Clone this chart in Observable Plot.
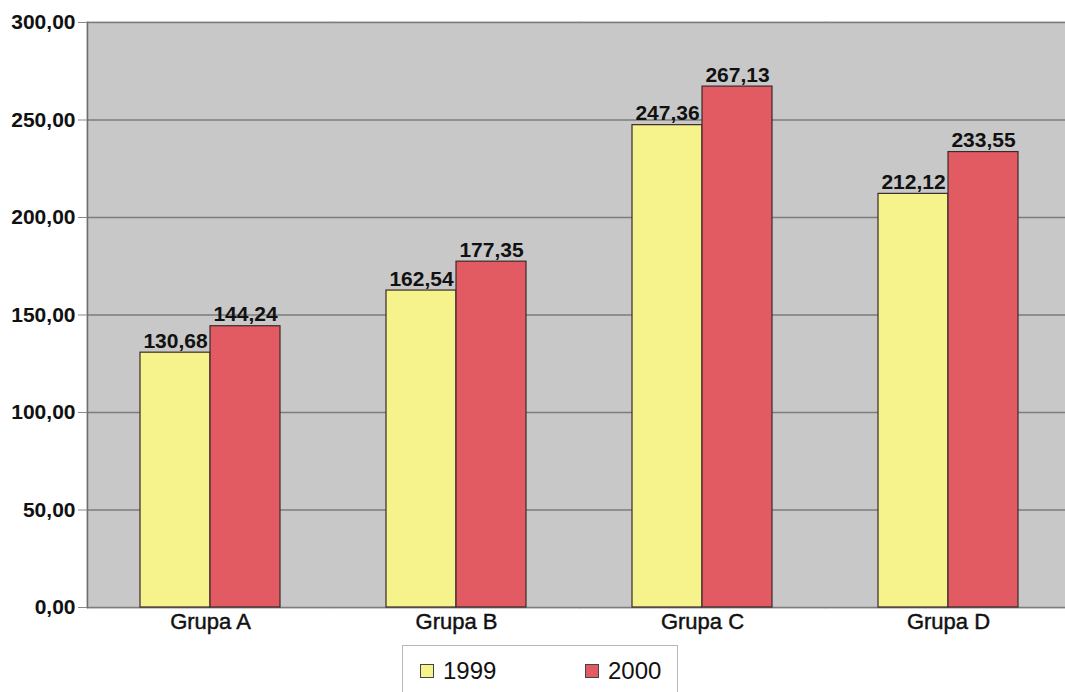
<!DOCTYPE html>
<html>
<head>
<meta charset="utf-8">
<script src="https://cdn.jsdelivr.net/npm/d3@7"></script>
<script src="https://cdn.jsdelivr.net/npm/@observablehq/plot@0.6"></script>
<style>
  body { margin: 0; background: #fff; font-family: "Liberation Sans", Arial, sans-serif; }
  #chart svg { display: block; }
  #chart g[aria-label="fx-axis tick label"] text { stroke: #111; stroke-width: 0.45px; }
  .legend {
    position: absolute; left: 402px; top: 645px; width: 276px; height: 60px;
    border: 1px solid #b8b8b8; box-sizing: border-box;
    font-size: 24px; color: #111;
  }
  .legend .item { position: absolute; top: 11px; display: flex; align-items: center; }
  .legend .sw { width: 12px; height: 12px; border: 1px solid #444; margin-right: 9px; }
</style>
</head>
<body>
<div id="chart"></div>
<div class="legend" id="legend"></div>
<script>
// Categories, series and values
const groups = ["Grupa A", "Grupa B", "Grupa C", "Grupa D"];
const years = ["1999", "2000"];
const values1999 = [130.68, 162.54, 247.36, 212.12];
const values2000 = [144.24, 177.35, 267.13, 233.55];
const yTicks = [0, 50, 100, 150, 200, 250, 300];
const colors = ["#f6f28c", "#e35b62"];

const fmt = v => v.toFixed(2).replace(".", ",");

const data = groups.flatMap((g, i) => [
  {group: g, year: years[0], value: values1999[i]},
  {group: g, year: years[1], value: values2000[i]}
]);

const chart = Plot.plot({
  width: 1065,
  height: 642,
  marginTop: 22,
  marginBottom: 35,
  marginLeft: 85,
  marginRight: -7,
  style: {fontFamily: "'Liberation Sans', Arial, sans-serif", background: "transparent"},
  fx: {domain: groups, padding: 0, label: null},
  x: {domain: years, paddingInner: 0, paddingOuter: 0.75, axis: null},
  y: {domain: [0, 300], label: null, axis: null},
  color: {domain: years, range: colors},
  marks: [
    // grey plot background; the same-coloured stroke hides seams between facets
    Plot.frame({fill: "#c8c8c8", stroke: "#c8c8c8", strokeWidth: 2}),
    Plot.ruleY(yTicks, {stroke: "#7d7d7d", strokeWidth: 1.5}),
    Plot.frame({anchor: "left", fx: ["Grupa A"], stroke: "#6e6e6e", strokeWidth: 1.5}),
    Plot.barY(data, {fx: "group", x: "year", y: "value", fill: "year", stroke: "#3a2a2a", strokeWidth: 1.2}),
    Plot.text(data, {
      fx: "group", x: "year", y: "value", text: d => fmt(d.value),
      lineAnchor: "bottom", dy: -5, fontSize: 21, fontWeight: "bold", fill: "#111"
    }),
    Plot.axisY(yTicks, {
      anchor: "left", tickSize: 9, tickPadding: 3, tickFormat: fmt,
      fontSize: 21, fontWeight: "bold", color: "#111", stroke: "#888"
    }),
    Plot.axisFx({anchor: "bottom", tickSize: 0, tickPadding: 6, fontSize: 22, color: "#111"})
  ]
});
document.getElementById("chart").append(chart);

// Legend below the plot
const legend = document.getElementById("legend");
const lefts = [17, 182];
years.forEach((y, i) => {
  const item = document.createElement("div");
  item.className = "item";
  item.style.left = lefts[i] + "px";
  item.innerHTML = `<span class="sw" style="background:${colors[i]}"></span><span>${y}</span>`;
  legend.append(item);
});
</script>
</body>
</html>
